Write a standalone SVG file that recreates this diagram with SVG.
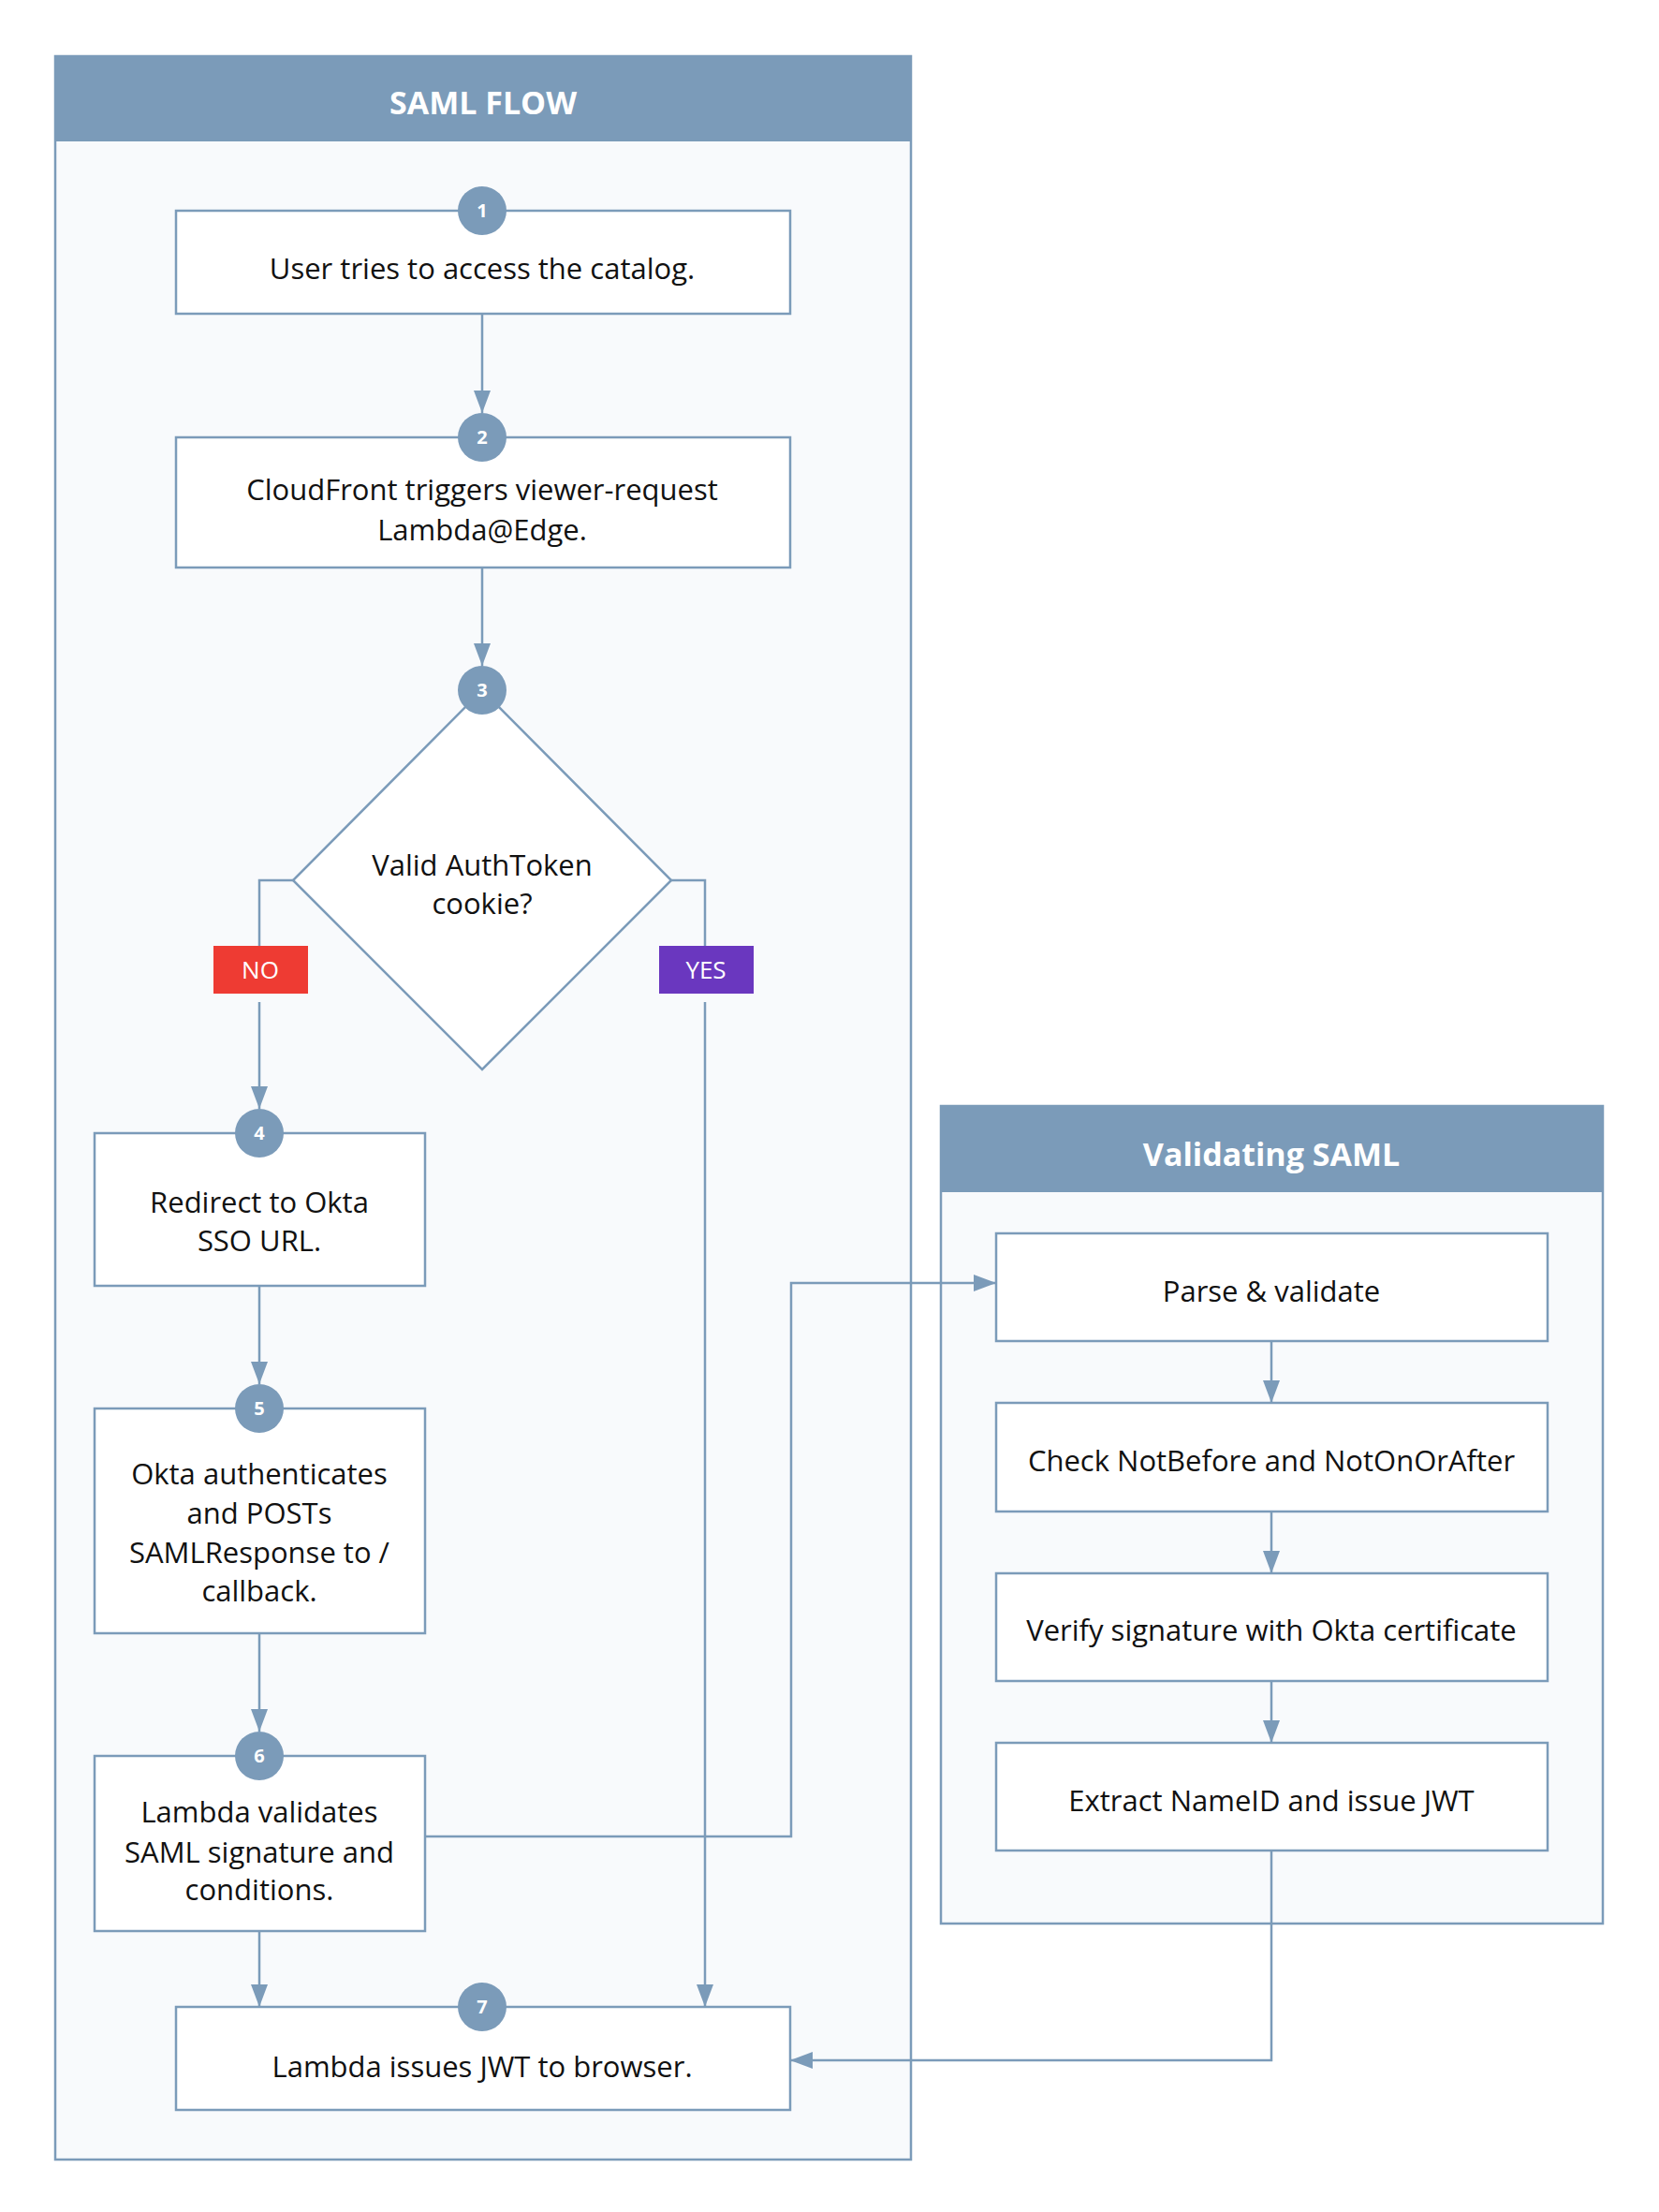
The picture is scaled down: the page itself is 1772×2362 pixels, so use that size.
<svg xmlns="http://www.w3.org/2000/svg" width="1772" height="2362" viewBox="0 0 1772 2362">
<defs>
<marker id="arr" viewBox="0 0 24 18" refX="24" refY="9" markerWidth="24" markerHeight="18" markerUnits="userSpaceOnUse" orient="auto">
<path d="M0,0 L24,9 L0,18 z" fill="#7B9BB9"/>
</marker>
<style>
.cont{fill:#F8FAFC;stroke:#7B9BB9;stroke-width:2.5}
.hdr{fill:#7B9BB9}
.htxt{font-family:"Open Sans","Noto Sans",sans-serif;font-weight:700;font-size:34px;fill:#FFFFFF;text-anchor:middle}
.box{fill:#FFFFFF;stroke:#7B9BB9;stroke-width:2.5}
.txt{font-family:"Open Sans","Noto Sans",sans-serif;font-size:31px;fill:#111111;text-anchor:middle}
.num{fill:#7B9BB9}
.ntxt{font-family:"Open Sans","Noto Sans",sans-serif;font-weight:700;font-size:20px;fill:#FFFFFF;text-anchor:middle}
.ln{fill:none;stroke:#7B9BB9;stroke-width:2.5}
.lbl{font-family:"Open Sans","Noto Sans",sans-serif;font-size:26px;fill:#FFFFFF;text-anchor:middle}
</style>
</defs>
<rect width="1772" height="2362" fill="#FFFFFF"/>

<g id="saml-flow">
<rect class="cont" x="59" y="60" width="914" height="2246"/>
<rect class="hdr" x="59" y="60" width="914" height="91"/>
<text class="htxt" x="516" y="122">SAML FLOW</text>
</g>

<g id="validating-saml">
<rect class="cont" x="1005" y="1181" width="707" height="873"/>
<rect class="hdr" x="1005" y="1181" width="707" height="92"/>
<text class="htxt" x="1358" y="1245">Validating SAML</text>
</g>

<g id="connectors">
<path class="ln" d="M515,335 L515,441" marker-end="url(#arr)"/>
<path class="ln" d="M515,606 L515,711" marker-end="url(#arr)"/>
<path class="ln" d="M313,940 L277,940 L277,1010"/>
<path class="ln" d="M277,1070 L277,1184" marker-end="url(#arr)"/>
<path class="ln" d="M717,940 L753,940 L753,1010"/>
<path class="ln" d="M753,1070 L753,2143" marker-end="url(#arr)"/>
<path class="ln" d="M277,1373 L277,1478" marker-end="url(#arr)"/>
<path class="ln" d="M277,1744 L277,1849" marker-end="url(#arr)"/>
<path class="ln" d="M277,2062 L277,2143" marker-end="url(#arr)"/>
<path class="ln" d="M454,1961 L845,1961 L845,1370 L1064,1370" marker-end="url(#arr)"/>
<path class="ln" d="M1358,1432 L1358,1498" marker-end="url(#arr)"/>
<path class="ln" d="M1358,1614 L1358,1680" marker-end="url(#arr)"/>
<path class="ln" d="M1358,1795 L1358,1861" marker-end="url(#arr)"/>
<path class="ln" d="M1358,1976 L1358,2200 L844,2200" marker-end="url(#arr)"/>
</g>

<g id="label-no">
<rect x="228" y="1010" width="101" height="51" fill="#EE3B33"/>
<text class="lbl" x="278" y="1045">NO</text>
</g>
<g id="label-yes">
<rect x="704" y="1010" width="101" height="51" fill="#6A37BF"/>
<text class="lbl" x="754" y="1045">YES</text>
</g>

<g id="step1">
<rect class="box" x="188" y="225" width="656" height="110"/>
<circle class="num" cx="515" cy="225" r="26"/>
<text class="ntxt" x="515" y="232">1</text>
<text class="txt" x="515" y="298">User tries to access the catalog.</text>
</g>

<g id="step2">
<rect class="box" x="188" y="467" width="656" height="139"/>
<circle class="num" cx="515" cy="467" r="26"/>
<text class="ntxt" x="515" y="474">2</text>
<text class="txt" x="515" y="534">CloudFront triggers viewer-request</text>
<text class="txt" x="515" y="577">Lambda@Edge.</text>
</g>

<g id="step3">
<polygon class="box" points="515,737 717,940 515,1142 313,940"/>
<circle class="num" cx="515" cy="737" r="26"/>
<text class="ntxt" x="515" y="744">3</text>
<text class="txt" x="515" y="935">Valid AuthToken</text>
<text class="txt" x="515" y="976">cookie?</text>
</g>

<g id="step4">
<rect class="box" x="101" y="1210" width="353" height="163"/>
<circle class="num" cx="277" cy="1210" r="26"/>
<text class="ntxt" x="277" y="1217">4</text>
<text class="txt" x="277" y="1295">Redirect to Okta</text>
<text class="txt" x="277" y="1336">SSO URL.</text>
</g>

<g id="step5">
<rect class="box" x="101" y="1504" width="353" height="240"/>
<circle class="num" cx="277" cy="1504" r="26"/>
<text class="ntxt" x="277" y="1511">5</text>
<text class="txt" x="277" y="1585">Okta authenticates</text>
<text class="txt" x="277" y="1627">and POSTs</text>
<text class="txt" x="277" y="1669">SAMLResponse to /</text>
<text class="txt" x="277" y="1710">callback.</text>
</g>

<g id="step6">
<rect class="box" x="101" y="1875" width="353" height="187"/>
<circle class="num" cx="277" cy="1875" r="26"/>
<text class="ntxt" x="277" y="1882">6</text>
<text class="txt" x="277" y="1946">Lambda validates</text>
<text class="txt" x="277" y="1989">SAML signature and</text>
<text class="txt" x="277" y="2029">conditions.</text>
</g>

<g id="step7">
<rect class="box" x="188" y="2143" width="656" height="110"/>
<circle class="num" cx="515" cy="2143" r="26"/>
<text class="ntxt" x="515" y="2150">7</text>
<text class="txt" x="515" y="2218">Lambda issues JWT to browser.</text>
</g>

<g id="parse">
<rect class="box" x="1064" y="1317" width="589" height="115"/>
<text class="txt" x="1358" y="1390">Parse &amp; validate</text>
</g>
<g id="check">
<rect class="box" x="1064" y="1498" width="589" height="116"/>
<text class="txt" x="1358" y="1571">Check NotBefore and NotOnOrAfter</text>
</g>
<g id="verify">
<rect class="box" x="1064" y="1680" width="589" height="115"/>
<text class="txt" x="1358" y="1752">Verify signature with Okta certificate</text>
</g>
<g id="extract">
<rect class="box" x="1064" y="1861" width="589" height="115"/>
<text class="txt" x="1358" y="1934">Extract NameID and issue JWT</text>
</g>
</svg>
